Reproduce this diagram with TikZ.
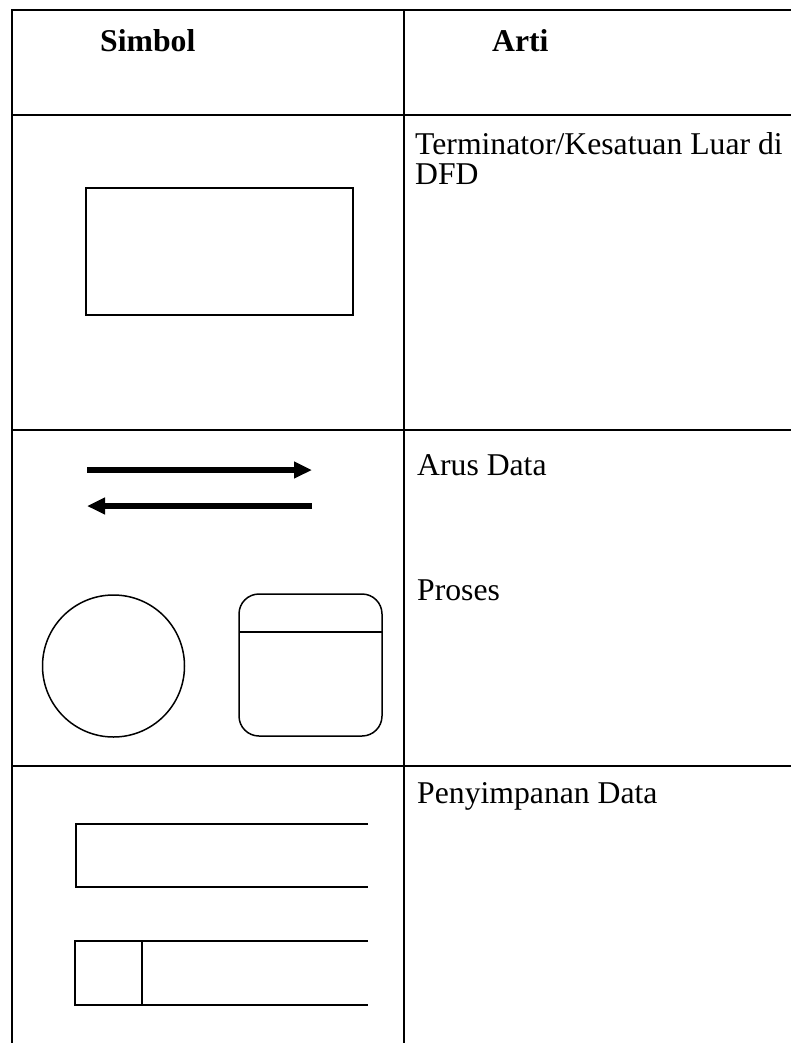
\documentclass[tikz,border=0pt]{standalone}
\usepackage{fontspec}
\setmainfont{Liberation Serif}
\usetikzlibrary{arrows.meta}

\begin{document}
\begin{tikzpicture}
		[x=1pt, y=-1pt,
		every node/.style={inner sep=0pt, anchor=base west, align=left, font=\fontsize{31.7}{30}\selectfont},
		kop/.style={font=\fontsize{31.7}{30}\selectfont\bfseries},
		garis/.style={line width=2.5pt},
		simbol/.style={line width=2pt},
		arus/.style={line width=5.5pt, -{Triangle[length=18pt,width=16pt]}},
		]

		\useasboundingbox (0,0) rectangle (791,1043);

		% tabel
		\draw[garis] (12,1043) -- (12,10) -- (791,10);
		\draw[garis] (404,10) -- (404,1043);
		\draw[simbol] (12,115) -- (791,115);
		\draw[simbol] (12,430) -- (791,430);
		\draw[simbol] (12,766) -- (791,766);

		% kepala
		\node[kop] (simbol) at (100,52) {Simbol};
		\node[kop] (arti) at (492,52) {Arti};

		% isi (base = baris terakhir)
		\node (terminator) at (415,185) {Terminator/Kesatuan Luar di\\DFD};
		\node (arusdata) at (417,475) {Arus Data};
		\node (proses) at (417,600) {Proses};
		\node (simpan) at (417,803) {Penyimpanan Data};

		% simbol
		\draw[simbol] (86,188) rectangle (353,315);

		\coordinate (a1) at (87,470);
		\coordinate (b1) at (312,470);
		\coordinate (a2) at (312,506);
		\coordinate (b2) at (87,506);
		\draw[arus] (a1) -- (b1);
		\draw[arus] (a2) -- (b2);

		\draw[line width=1.5pt] (113.5,666) circle (71);
		\draw[line width=1.5pt, rounded corners=20pt] (239,594) rectangle (382,736);
		\draw[line width=1.5pt] (239,632) -- (382,632);

		\draw[simbol] (368,824) -- (76,824) -- (76,887) -- (368,887);
		\draw[simbol] (368,941) -- (75,941) -- (75,1005) -- (368,1005);
		\draw[simbol] (142,941) -- (142,1005);
	\end{tikzpicture}
\end{document}
